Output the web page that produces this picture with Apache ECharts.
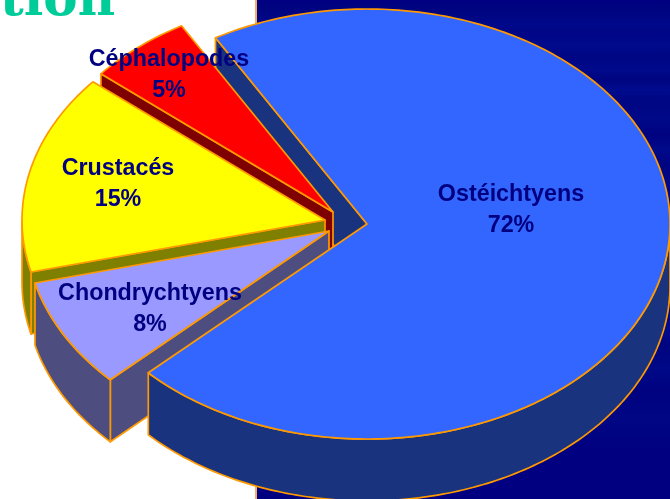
<!DOCTYPE html>
<html>
<head>
<meta charset="utf-8">
<style>html,body{margin:0;padding:0;background:#fff}#chart{width:670px;height:499px}</style>
<script src="https://cdn.jsdelivr.net/npm/echarts@6/dist/echarts.min.js"></script>
</head>
<body>
<div id="chart"></div>
<script>
// Data, clockwise from the first slice
var categories = ['Ostéichtyens', 'Chondrychtyens', 'Crustacés', 'Céphalopodes'];
var percentValues = [72, 8, 15, 5];

// Presentation
var topColors = ['#3366FF', '#9999FF', '#FFFF00', '#FF0000'];
var wallColors = ['#1A337F', '#4D4D7F', '#7F7F00', '#7F0000'];
var apexX = [367, 329, 325, 333];
var apexY = [224, 231, 220, 212];
var labelX = [511, 150, 118, 169];
var labelY = [210, 309, 184.5, 75];
var stackOrder = [41, 30, 20, 10];
// small perspective correction (degrees) at the start edge of each slice
var perspectiveNudge = [2, -1, 0, 0];
var RX = 303, RY = 215, DEPTH = 62, START = -32, EDGE = '#FF9900';

var streakStops = [
  [0, '#000080'], [0.02, '#000480'], [0.05, '#00098A'], [0.07, '#000686'], [0.09, '#000B8C'],
  [0.11, '#000684'], [0.14, '#000A8A'], [0.16, '#000480'], [0.18, '#000C8E'], [0.2, '#000684'],
  [0.24, '#000988'], [0.27, '#000280'], [0.3, '#000A8A'], [0.33, '#000480'], [0.37, '#000988'],
  [0.42, '#000280'], [0.47, '#000988'], [0.52, '#000480'], [0.58, '#000A8A'], [0.62, '#000480'],
  [0.66, '#000C8E'], [0.69, '#000480'], [0.74, '#000988'], [0.78, '#000280'], [0.84, '#000684'],
  [0.9, '#000080'], [1, '#000080']
];

function pt(cx, cy, deg) {
  var a = deg * Math.PI / 180;
  return [cx + RX * Math.sin(a), cy - RY * Math.cos(a)];
}
function arc(cx, cy, a0, a1) {
  var out = [], n = Math.max(2, Math.ceil(Math.abs(a1 - a0)));
  for (var i = 0; i <= n; i++) out.push(pt(cx, cy, a0 + (a1 - a0) * i / n));
  return out;
}
function poly(points, fill, z2) {
  return {
    type: 'polygon', z2: z2, silent: true,
    shape: { points: points },
    style: { fill: fill, stroke: EDGE, lineWidth: 1.7, lineJoin: 'round' }
  };
}
function drop(points) {
  return points.map(function (p) { return [p[0], p[1] + DEPTH]; });
}

function renderSlice(params, api) {
  var i = params.dataIndex, value = api.value(1), before = 0;
  var total = percentValues.reduce(function (s, v) { return s + v; }, 0);
  for (var k = 0; k < i; k++) before += percentValues[k];
  var next = (i + 1) % percentValues.length;
  var a0 = START + before / total * 360 + perspectiveNudge[i];
  var a1 = START + (before + value) / total * 360 + perspectiveNudge[next];
  var cx = apexX[i], cy = apexY[i], z = stackOrder[i];
  var edge = [[cx, cy], pt(cx, cy, a0)];
  var children = [poly(edge.concat(drop(edge).reverse()), wallColors[i], i === 0 ? 0 : z)];
  // front-facing part of the rim (pie angles 90..270)
  var f0 = Math.max(a0, 90), f1 = Math.min(a1, 270);
  if (f1 > f0) {
    var rim = arc(cx, cy, f0, f1);
    children.push(poly(rim.concat(drop(rim).reverse()), wallColors[i], z));
  }
  children.push(poly([[cx, cy]].concat(arc(cx, cy, a0, a1)), topColors[i], z));
  children.push({
    type: 'text', z2: 60, silent: true,
    style: {
      x: labelX[i], y: labelY[i], text: categories[i] + '\n' + value + '%',
      fill: '#000080', font: 'bold 23.3px "Liberation Sans"', lineHeight: 31,
      align: 'center', verticalAlign: 'middle'
    }
  });
  return { type: 'group', children: children };
}

var chart = echarts.init(document.getElementById('chart'), null, { renderer: 'canvas', width: 670, height: 499 });
chart.setOption({
  animation: false,
  backgroundColor: '#FFFFFF',
  graphic: [
    {
      type: 'rect', z: -10, silent: true,
      shape: { x: 256, y: 0, width: 414, height: 499 },
      style: {
        fill: {
          type: 'linear', x: 0, y: 0, x2: 0, y2: 1,
          colorStops: streakStops.map(function (s) { return { offset: s[0], color: s[1] }; })
        }
      }
    },
    {
      type: 'rect', z: -9, silent: true,
      shape: { x: 255, y: 0, width: 2, height: 499 },
      style: { fill: '#F2AE6A' }
    },
    {
      type: 'text', z: -8, silent: true, x: 0, y: 28,
      style: {
        text: 'tion', fill: '#00CC99', font: 'bold 51.5px "DejaVu Serif"',
        verticalAlign: 'bottom'
      }
    }
  ],
  series: [{
    type: 'custom',
    coordinateSystem: 'none',
    silent: true,
    renderItem: renderSlice,
    data: categories.map(function (c, i) { return [c, percentValues[i]]; })
  }]
});
</script>
</body>
</html>
